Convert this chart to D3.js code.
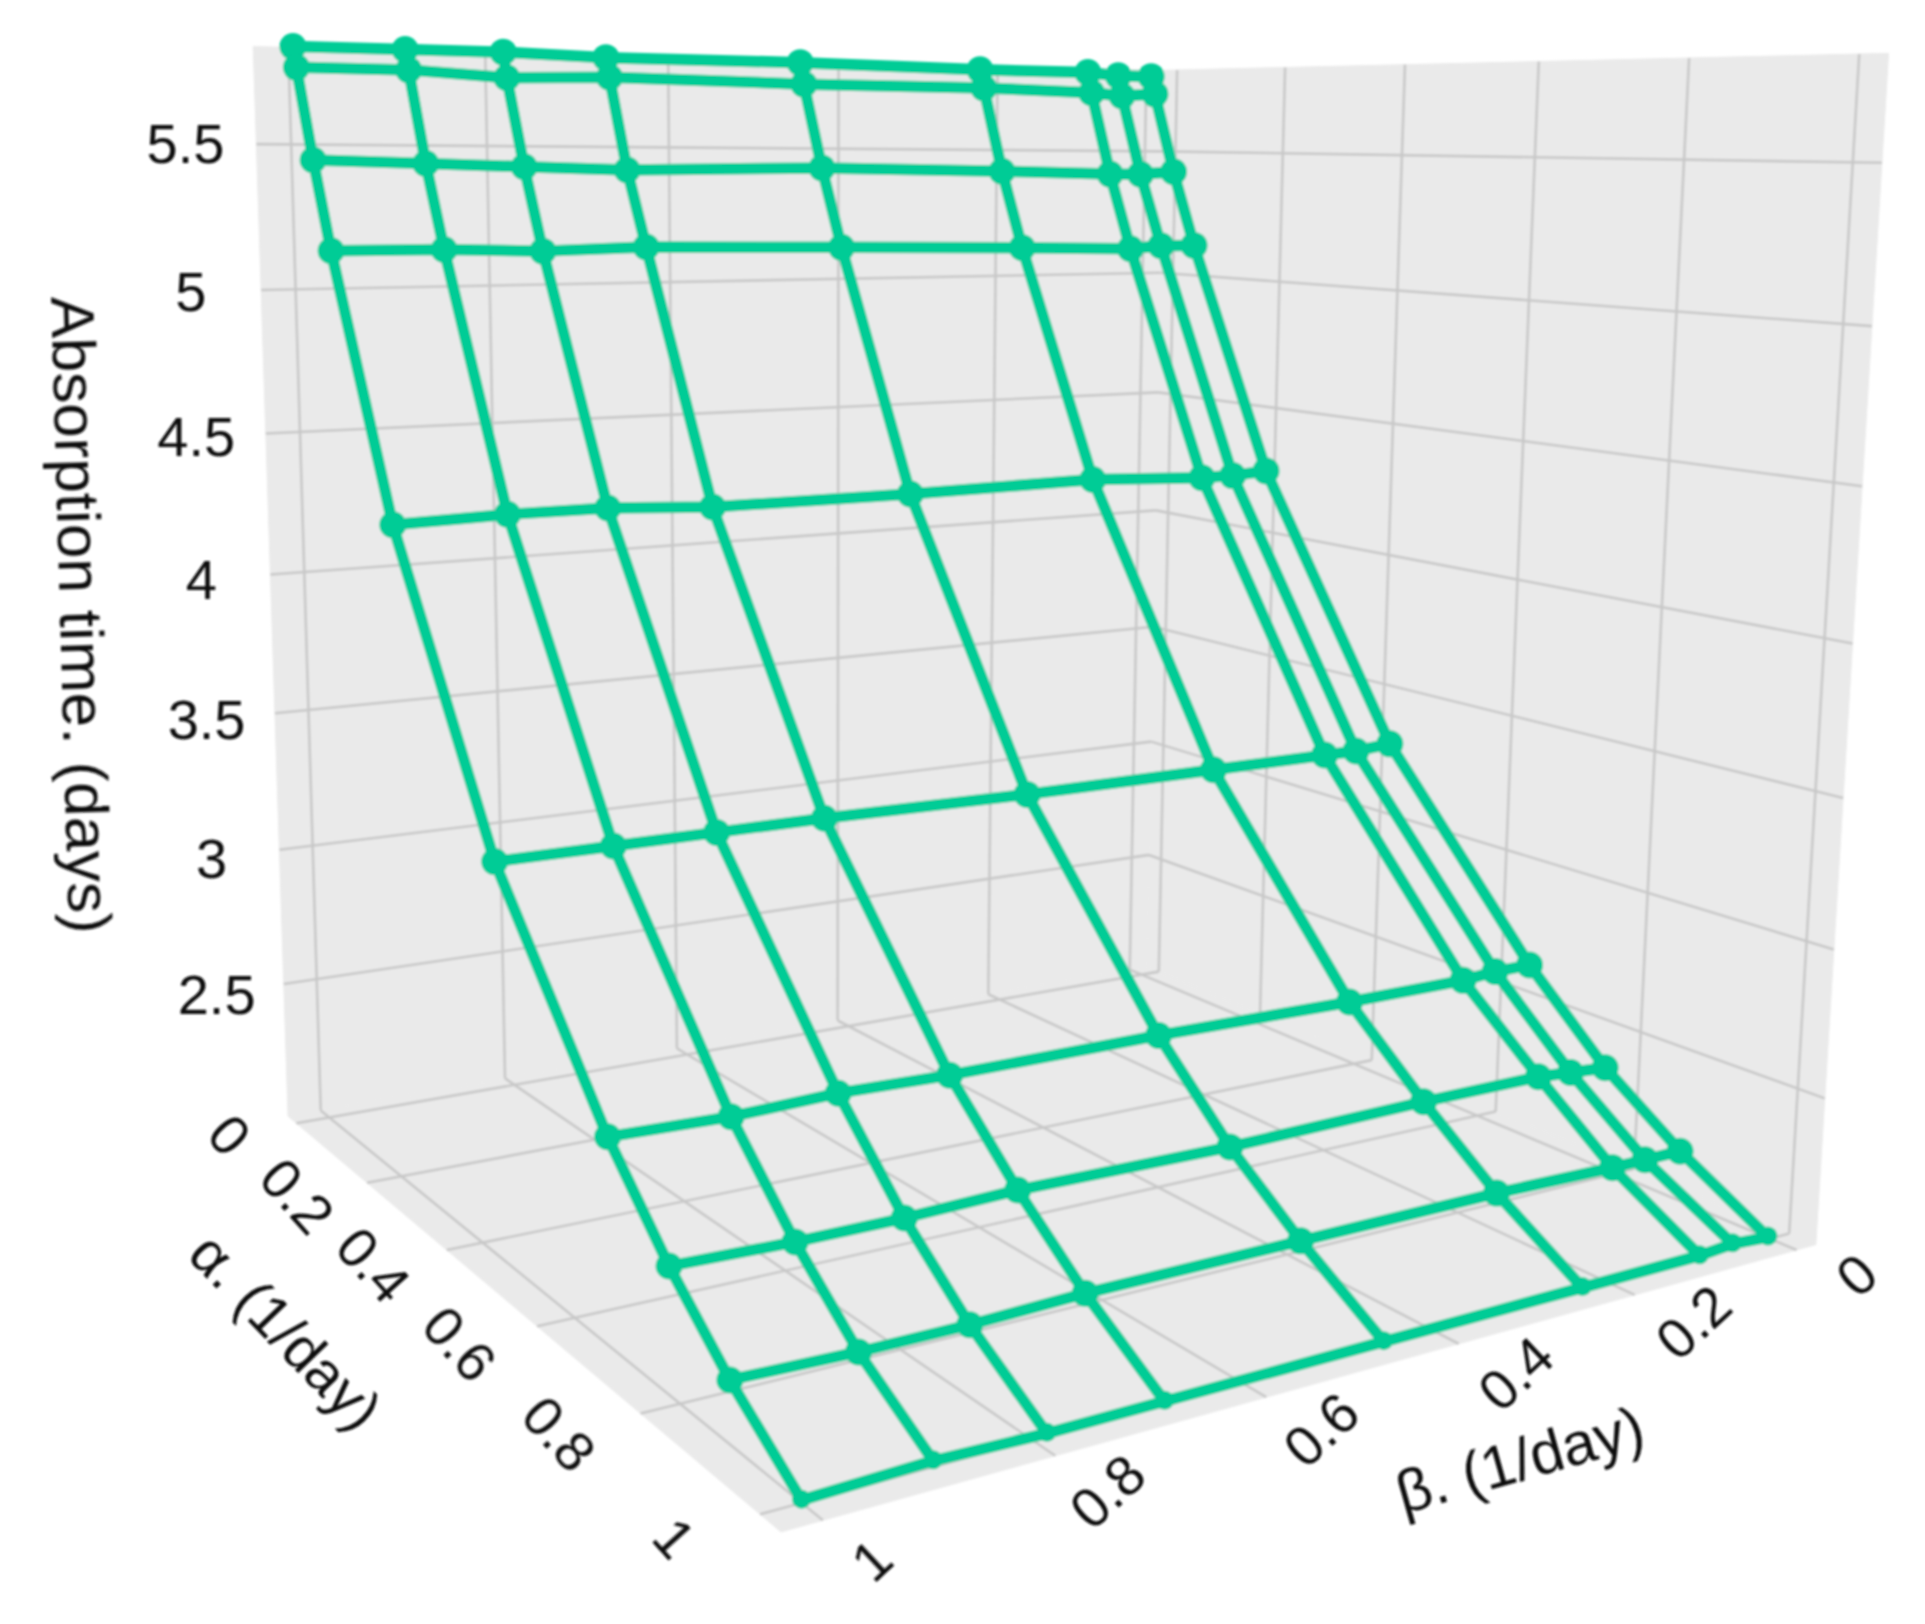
<!DOCTYPE html>
<html><head><meta charset="utf-8"><style>html,body{margin:0;background:#fff}svg{display:block}text{font-family:"Liberation Sans",Arial,sans-serif;fill:#111}</style></head>
<body><svg id="c" width="1925" height="1624"></svg>
<script src="https://cdn.jsdelivr.net/npm/d3@7"></script>
<script>
// ---- data ----
const alphaValues=[0.006,0.014,0.053,0.095,0.237,0.460,0.684,0.795,0.898,1.011];
const betaValues=[1.006,0.895,0.794,0.684,0.463,0.242,0.101,0.060,0.015];
const absorptionTime=[
[5.83,5.83,5.83,5.82,5.82,5.81,5.81,5.80,5.80],
[5.76,5.76,5.74,5.75,5.74,5.74,5.73,5.72,5.73],
[5.45,5.44,5.43,5.42,5.43,5.42,5.41,5.41,5.42],
[5.15,5.15,5.14,5.15,5.14,5.13,5.12,5.13,5.13],
[4.28,4.29,4.29,4.27,4.27,4.28,4.26,4.26,4.27],
[3.32,3.32,3.32,3.32,3.31,3.31,3.31,3.31,3.32],
[2.67,2.66,2.67,2.66,2.66,2.65,2.65,2.66,2.66],
[2.41,2.40,2.40,2.41,2.40,2.41,2.41,2.40,2.39],
[2.21,2.20,2.20,2.21,2.21,2.21,2.20,2.20,2.20],
[2.03,2.04,2.03,2.03,2.03,2.03,2.03,2.04,2.03]];
const alphaTicks=[0,0.2,0.4,0.6,0.8,1];
const betaTicks=[0,0.2,0.4,0.6,0.8,1];
const zTicks=[2.5,3,3.5,4,4.5,5,5.5];
const alphaTitle="α. (1/day)",betaTitle="β. (1/day)",zTitle="Absorption time. (days)";
// ---- scene ----
const aDom=[-0.025,1.032],bDom=[-0.025,1.034],zDom=[2.0,5.83];
const U=d3.scaleLinear().domain(aDom).range([0,1]),V=d3.scaleLinear().domain(bDom).range([0,1]),W=d3.scaleLinear().domain(zDom).range([0,1]);
const camera=[[220.8506,-905.0780,-42.28191,1146.819],[-29.23464,-30.03618,-899.9777,966.6570],[-0.2468041,-0.1608604,-0.05139924,1]];
function project(a,b,z){const q=[U(a),V(b),W(z),1];const X=camera.map(r=>d3.sum(r,(c,i)=>c*q[i]));return [X[0]/X[2],X[1]/X[2]];}
const [a0,a1]=aDom,[b0,b1]=bDom,[z0,z1]=zDom;
const svg=d3.select("#c");
const defs=svg.append("defs");
defs.append("filter").attr("id","soft").attr("filterUnits","userSpaceOnUse").attr("x",0).attr("y",0).attr("width",1925).attr("height",1624)
 .append("feGaussianBlur").attr("stdDeviation",0.9);
const g=svg.append("g").attr("filter","url(#soft)");
const path=d3.line();
const wallColor="#eaeaea",gridColor="#c8c8c8",teal="#00cc96";
const walls=[[[a0,b1,z0],[a0,b1,z1],[a0,b0,z1],[a0,b0,z0]],[[a0,b0,z0],[a0,b0,z1],[a1,b0,z1],[a1,b0,z0]],[[a0,b1,z0],[a1,b1,z0],[a1,b0,z0],[a0,b0,z0]]];
g.append("g").selectAll("path").data(walls).join("path").attr("d",w=>path(w.map(p=>project(...p)))+"Z").attr("fill",wallColor).attr("stroke",wallColor).attr("stroke-width",1);
const gridSegs=[];
betaTicks.forEach(b=>{gridSegs.push([[a0,b,z0],[a0,b,z1]]);gridSegs.push([[a0,b,z0],[a1,b,z0]]);});
alphaTicks.forEach(a=>{gridSegs.push([[a,b0,z0],[a,b0,z1]]);gridSegs.push([[a,b0,z0],[a,b1,z0]]);});
zTicks.forEach(z=>{gridSegs.push([[a0,b1,z],[a0,b0,z]]);gridSegs.push([[a0,b0,z],[a1,b0,z]]);});
g.append("g").selectAll("path").data(gridSegs).join("path").attr("d",s=>path(s.map(p=>project(...p)))).attr("fill","none").attr("stroke",gridColor).attr("stroke-width",2.6);
// surface mesh
const rowLines=alphaValues.map((a,i)=>betaValues.map((b,j)=>project(a,b,absorptionTime[i][j])));
const colLines=betaValues.map((b,j)=>alphaValues.map((a,i)=>project(a,b,absorptionTime[i][j])));
const mesh=g.append("g").attr("fill","none").attr("stroke",teal).attr("stroke-width",11.5).attr("stroke-linejoin","round");
mesh.selectAll("path.r").data(rowLines).join("path").attr("class","r").attr("d",path);
mesh.selectAll("path.c").data(colLines).join("path").attr("class","c").attr("d",path);
const nodes=alphaValues.flatMap((a,i)=>betaValues.map((b,j)=>({p:project(a,b,absorptionTime[i][j]),last:i===alphaValues.length-1})));
g.append("g").attr("fill",teal).selectAll("circle").data(nodes).join("circle").attr("cx",d=>d.p[0]).attr("cy",d=>d.last?d.p[1]-1:d.p[1]).attr("r",d=>d.last?9.5:13.5);
// text
const font=56,tickOff=0.068,betaOff=0.07;
function label(pos,txt,rot,size){g.append("text").attr("transform",`translate(${pos[0]},${pos[1]}) rotate(${rot})`).attr("text-anchor","middle").attr("dominant-baseline","central").attr("font-size",size).text(txt);}
zTicks.forEach(z=>label(project(a0,b1+tickOff,z),String(z),0,font));
alphaTicks.forEach(a=>label(project(a,b1+tickOff,z0),String(a),48,font));
betaTicks.forEach(b=>label(project(a1+betaOff,b,z0),String(b),-43,font));
label([82,615],zTitle,88.4,62);
label([286,1331],alphaTitle,46,58);
label([1520,1460],betaTitle,-15.7,60);
</script></body></html>
